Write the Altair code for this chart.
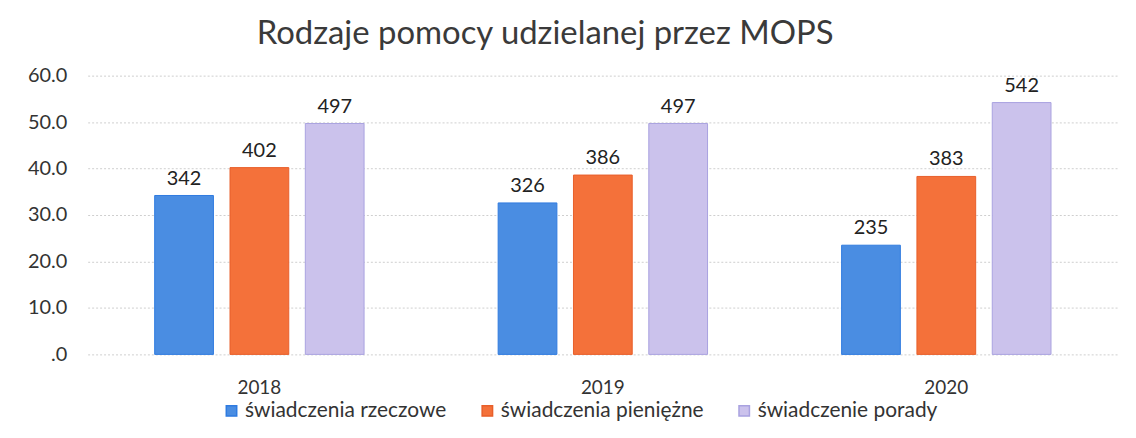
import altair as alt
import pandas as pd

years = ["2018", "2019", "2020"]
series = ["świadczenia rzeczowe", "świadczenia pieniężne", "świadczenie porady"]
rzeczowe = [342, 326, 235]
pieniezne = [402, 386, 383]
porady = [497, 497, 542]
colors = ["#4a8de2", "#f4713a", "#cbc2ec"]
strokes = ["#2f7be0", "#e85f2a", "#a9a2e0"]

rows = []
for i, y in enumerate(years):
    for s, vals in zip(series, [rzeczowe, pieniezne, porady]):
        rows.append({"rok": y, "seria": s, "wartosc": vals[i], "h": vals[i] / 10})
df = pd.DataFrame(rows)

FONT = "Lato"

x = alt.X("rok:N", title=None,
          scale=alt.Scale(paddingInner=0, paddingOuter=0),
          axis=alt.Axis(labelAngle=0, labelFontSize=19, labelColor="#333333",
                        labelFont=FONT, domain=False, ticks=False, labelPadding=24))
xo = alt.XOffset("seria:N", sort=series,
                 scale=alt.Scale(paddingInner=0.22, paddingOuter=0.89))
y = alt.Y("h:Q", title=None,
          scale=alt.Scale(domain=[0, 60]),
          axis=alt.Axis(values=[0, 10, 20, 30, 40, 50, 60],
                        labelExpr="datum.value == 0 ? '.0' : format(datum.value, '.1f')",
                        labelFontSize=20, labelColor="#333333", labelFont=FONT,
                        labelPadding=21, domain=False, ticks=False,
                        grid=True, gridColor="#cfcfcf", gridDash=[2, 2], gridWidth=1))

bars = alt.Chart(df).mark_bar(strokeWidth=1).encode(
    x=x, xOffset=xo, y=y,
    color=alt.Color("seria:N", sort=series,
                    scale=alt.Scale(domain=series, range=colors),
                    legend=alt.Legend(title=None, orient="none", direction="horizontal",
                                      legendX=134, legendY=326,
                                      symbolType="square", symbolSize=110,
                                      labelFontSize=21, labelFont=FONT, labelColor="#333333",
                                      labelLimit=0, columnPadding=30, labelOffset=3)),
    stroke=alt.Stroke("seria:N", sort=series,
                      scale=alt.Scale(domain=series, range=strokes), legend=None),
)

labels = alt.Chart(df).mark_text(dy=-17, fontSize=20, font=FONT, color="#222222").encode(
    x=x, xOffset=xo, y=y, text=alt.Text("wartosc:Q"),
)

chart = (bars + labels).properties(
    width=1035, height=280,
    title=alt.TitleParams("Rodzaje pomocy udzielanej przez MOPS", fontSize=33,
                          font=FONT, fontWeight="normal", color="#3a3a3a",
                          anchor="middle", offset=15, dx=-58),
    autosize=alt.AutoSizeParams(type="none"),
    padding={"left": 80, "top": 67, "right": 10, "bottom": 70},
).configure_view(stroke=None)

chart.save("out.html", embed_options={"renderer": "svg", "actions": False})
